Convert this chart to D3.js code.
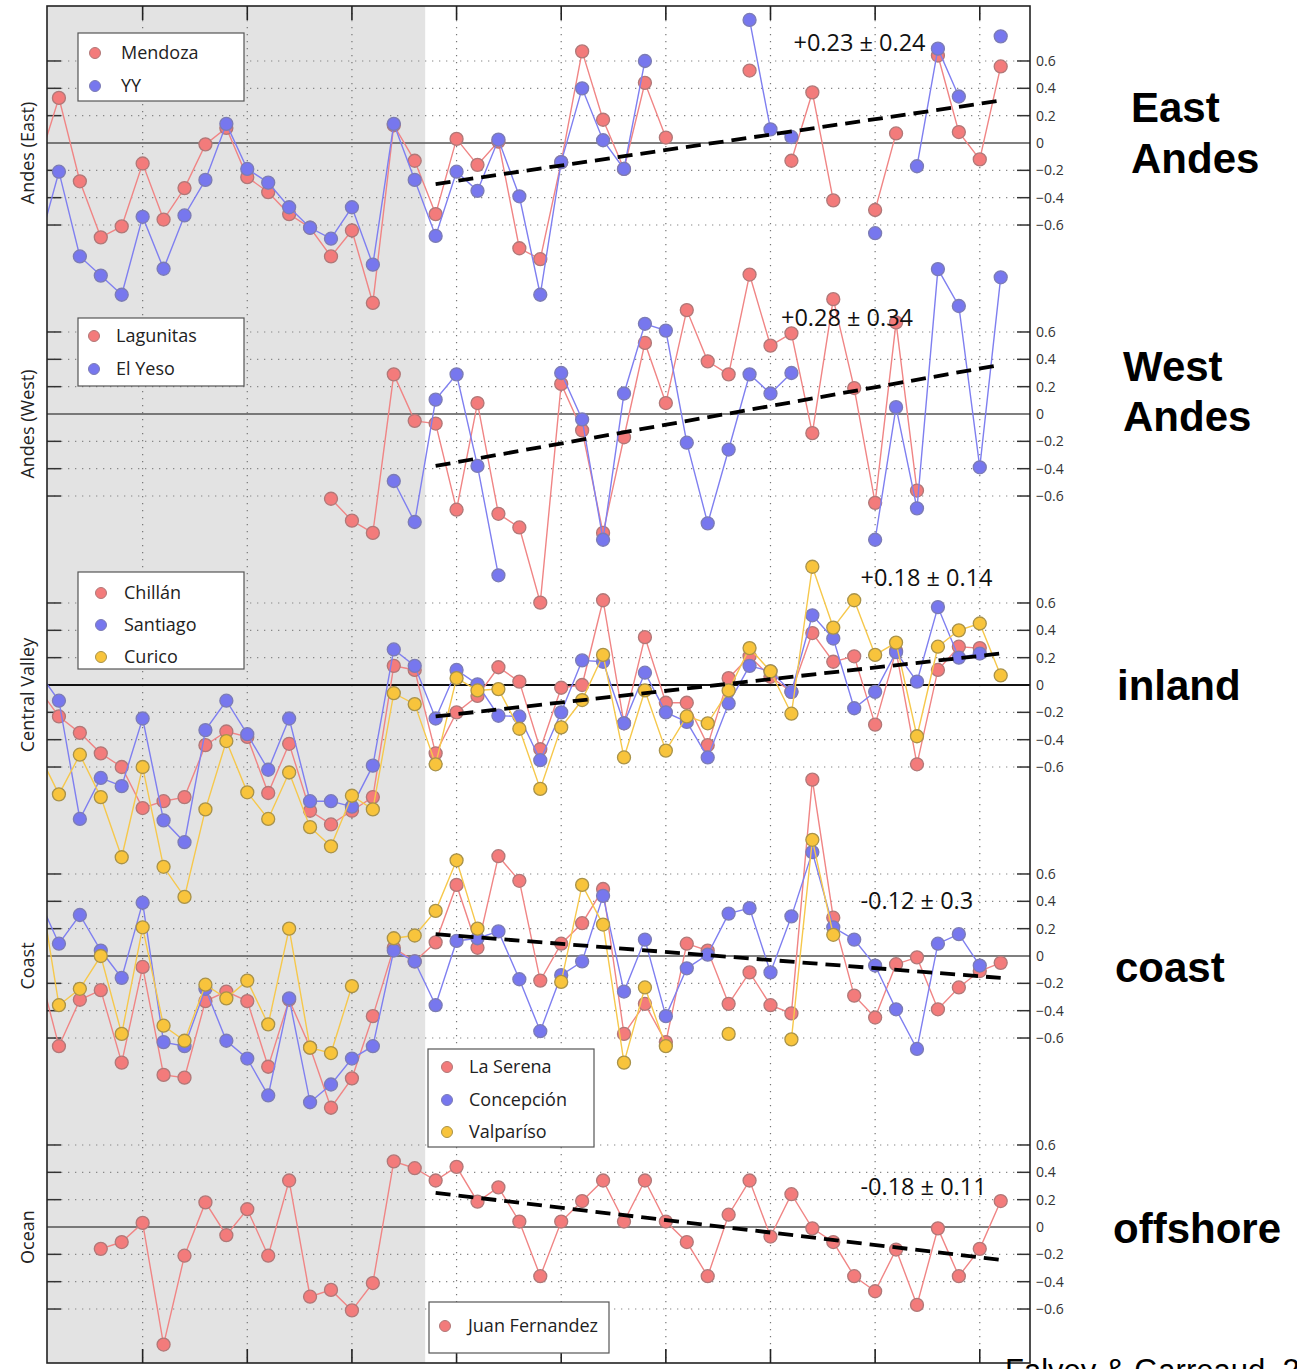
<!DOCTYPE html>
<html>
<head>
<meta charset="utf-8">
<script src="https://cdn.jsdelivr.net/npm/d3@7/dist/d3.min.js"></script>
<style>
html,body{margin:0;padding:0;background:#fff;}
svg{display:block;}
</style>
</head>
<body>
<svg id="chart" width="1297" height="1369"></svg>
<script>
// ---------------- DATA ----------------
const years = d3.range(1960, 2007); // 1960 ... 2006
const N = null;

// East Andes
const mendoza = [-0.16,0.33,-0.28,-0.69,-0.61,-0.15,-0.56,-0.33,-0.01,0.11,-0.25,-0.36,-0.52,-0.62,-0.83,-0.64,-1.17,0.13,-0.13,-0.52,
  0.03,-0.16,0.01,-0.77,-0.85,-0.14,0.67,0.17,-0.19,0.44,0.04,N,N,N,0.53,N,-0.13,0.37,-0.42,N,-0.49,0.07,N,0.64,0.08,-0.12,0.56];
const yy = [-0.77,-0.21,-0.83,-0.97,-1.11,-0.54,-0.92,-0.53,-0.27,0.14,-0.19,-0.29,-0.47,-0.62,-0.70,-0.47,-0.89,0.14,-0.27,-0.68,
  -0.21,-0.35,0.025,-0.39,-1.11,-0.14,0.40,0.02,-0.19,0.60,N,N,N,N,0.90,0.10,0.044,N,N,N,-0.66,N,-0.17,0.69,0.34,N,0.78];

// West Andes
const lagunitas = [N,N,N,N,N,N,N,N,N,N,N,N,N,N,-0.62,-0.78,-0.87,0.29,-0.05,-0.07,
  -0.70,0.08,-0.73,-0.83,-1.38,0.22,-0.12,-0.87,-0.17,0.52,0.08,0.76,0.385,0.29,1.02,0.50,0.59,-0.14,0.84,0.19,-0.65,0.67,-0.56,N,N,N,N];
const elYeso = [N,N,N,N,N,N,N,N,N,N,N,N,N,N,N,N,N,-0.49,-0.79,0.105,
  0.29,-0.38,-1.18,N,N,0.30,-0.04,-0.92,0.15,0.66,0.61,-0.21,-0.80,-0.26,0.29,0.15,0.30,N,N,N,-0.92,0.05,-0.69,1.06,0.79,-0.39,1.00];

// Central Valley
const chillan = [-0.02,-0.23,-0.35,-0.50,-0.60,-0.90,-0.85,-0.82,-0.44,-0.34,-0.38,-0.79,-0.43,-0.92,-1.02,-0.92,-0.82,0.14,0.11,-0.50,
  -0.20,-0.08,0.13,0.025,-0.47,-0.02,0.0,0.62,-0.28,0.35,-0.13,-0.13,-0.44,0.05,0.21,0.06,-0.05,0.38,0.17,0.21,-0.29,0.25,-0.58,0.11,0.28,0.27,N];
const santiago = [0.10,-0.115,-0.98,-0.68,-0.74,-0.245,-0.99,-1.15,-0.33,-0.115,-0.36,-0.62,-0.245,-0.85,-0.85,-0.89,-0.59,0.26,0.14,-0.245,
  0.11,0.005,-0.225,-0.23,-0.55,-0.20,0.18,0.17,-0.28,0.09,-0.20,-0.27,-0.53,-0.135,0.14,0.10,-0.05,0.51,0.34,-0.17,-0.05,0.24,0.025,0.57,0.20,0.23,N];
const curico = [-0.49,-0.80,-0.51,-0.82,-1.26,-0.60,-1.33,-1.55,-0.91,-0.41,-0.785,-0.98,-0.64,-1.04,-1.18,-0.81,-0.91,-0.06,-0.14,-0.58,
  0.05,-0.04,-0.03,-0.32,-0.76,-0.31,-0.11,0.22,-0.53,-0.04,-0.48,-0.23,-0.28,-0.04,0.27,0.10,-0.21,0.865,0.42,0.62,0.22,0.31,-0.375,0.28,0.40,0.45,0.07];

// Coast
const laSerena = [-0.07,-0.66,-0.32,-0.25,-0.78,-0.08,-0.87,-0.89,-0.33,-0.26,-0.33,-0.81,-0.32,-0.67,-1.11,-0.895,-0.44,0.06,-0.04,0.10,
  0.52,0.06,0.73,0.55,-0.18,0.09,0.24,0.49,-0.57,-0.35,-0.63,0.09,0.04,-0.35,-0.12,-0.36,-0.42,1.29,0.28,-0.29,-0.45,-0.06,-0.01,-0.39,-0.23,-0.11,-0.05];
const concepcion = [0.43,0.09,0.30,0.04,-0.16,0.39,-0.63,-0.66,-0.24,-0.62,-0.75,-1.02,-0.31,-1.07,-0.94,-0.75,-0.66,0.04,-0.04,-0.36,
  0.11,0.13,0.18,-0.17,-0.55,-0.14,-0.04,0.44,-0.26,0.12,-0.44,-0.09,0.01,0.31,0.35,-0.12,0.29,0.76,0.21,0.12,-0.07,-0.39,-0.68,0.09,0.16,-0.07,N];
const valparaiso = [0.59,-0.36,-0.24,0.0,-0.57,0.21,-0.51,-0.62,-0.21,-0.31,-0.18,-0.50,0.20,-0.67,-0.71,-0.22,N,0.13,0.15,0.33,
  0.70,0.20,N,N,N,-0.19,0.52,0.23,-0.78,-0.23,-0.66,N,N,-0.57,N,N,-0.61,0.85,0.155,N,N,N,N,N,N,N,N];

// Ocean
const juanFernandez = [N,N,N,-0.16,-0.11,0.03,-0.86,-0.21,0.18,-0.06,0.13,-0.21,0.34,-0.51,-0.46,-0.61,-0.41,0.48,0.43,0.34,
  0.44,0.185,0.29,0.04,-0.36,0.04,0.19,0.34,0.04,0.34,0.04,-0.11,-0.36,0.09,0.34,-0.07,0.24,-0.01,-0.11,-0.36,-0.47,-0.165,-0.57,-0.01,-0.36,-0.16,0.19];

// panels
const panelTitles = ["Andes (East)", "Andes (West)", "Central Valley", "Coast", "Ocean"];
const regionLabels = [["East","Andes"], ["West","Andes"], ["inland"], ["coast"], ["offshore"]];
const trendText = ["+0.23 \u00B1 0.24", "+0.28 \u00B1 0.34", "+0.18 \u00B1 0.14", "-0.12 \u00B1 0.3", "-0.18 \u00B1 0.11"];
const trendStartVal = [-0.30, -0.38, -0.23, 0.16, 0.25];   // value at 1979
const trendEndVal   = [0.31, 0.36, 0.23, -0.16, -0.24];    // value at 2006
const trendYears = [1979, 2006];
const trendLabelPos = [[1996.1, 0.73], [1995.5, 0.70], [1999.3, 0.78], [1999.3, 0.40], [1999.3, 0.29]];
const panelSeries = [
  [{name:"Mendoza", c:"red", v:mendoza}, {name:"YY", c:"blue", v:yy}],
  [{name:"Lagunitas", c:"red", v:lagunitas}, {name:"El Yeso", c:"blue", v:elYeso}],
  [{name:"Chill\u00E1n", c:"red", v:chillan}, {name:"Santiago", c:"blue", v:santiago}, {name:"Curico", c:"yellow", v:curico}],
  [{name:"La Serena", c:"red", v:laSerena}, {name:"Concepci\u00F3n", c:"blue", v:concepcion}, {name:"Valpar\u00EDso", c:"yellow", v:valparaiso}],
  [{name:"Juan Fernandez", c:"red", v:juanFernandez}]
];
const legendNames = [["Mendoza","YY"], ["Lagunitas","El Yeso"], ["Chill\u00E1n","Santiago","Curico"], ["La Serena","Concepci\u00F3n","Valpar\u00EDso"], ["Juan Fernandez"]];
const yTicks = [-0.6,-0.4,-0.2,0,0.2,0.4,0.6];
const xTicks = [1965,1970,1975,1980,1985,1990,1995,2000,2005];
const shadeEnd = 1978.5;

// ---------------- STYLE / LAYOUT ----------------
const L = 47, R = 1030, T = 6, B = 1363;
const zeros = [143, 414, 685, 956, 1227];
const unit = 136.7;
const fills = {red:"#f37b7b", blue:"#7777ee", yellow:"#f8c43c"};
const strokes = {red:"#b07878", blue:"#7c7cb4", yellow:"#a8924a"};
const lines = {red:"#f08585", blue:"#7f7ff0", yellow:"#f6c84c"};
const legendBoxes = [
  {x:78, y:33, w:166, h:68, mx:95, tx:121, ys:[53,86]},
  {x:78, y:318, w:166, h:68, mx:94, tx:116, ys:[336,369]},
  {x:78, y:572, w:166, h:97, mx:101, tx:124, ys:[593,625,657]},
  {x:428, y:1049, w:166, h:98, mx:447, tx:469, ys:[1067,1100,1132]},
  {x:429, y:1302, w:180, h:51, mx:445, tx:468, ys:[1326]}
];
const regionPos = [[1131,[122,173]], [1123,[381,431]], [1117,[700]], [1115,[982]], [1113,[1243]]];

const svg = d3.select("#chart");
const x = d3.scaleLinear().domain([1960.43, 2007.40]).range([L, R]);
const yScales = zeros.map(z => d3.scaleLinear().domain([-1, 1]).range([z + unit, z - unit]));

svg.append("defs").append("clipPath").attr("id","plotclip")
  .append("rect").attr("x",L).attr("y",T).attr("width",R-L).attr("height",B-T);

// gray shading
svg.append("rect").attr("x",L).attr("y",T).attr("width",x(shadeEnd)-L).attr("height",B-T).attr("fill","#e3e3e3");

// vertical dotted grid
svg.append("g").selectAll("line").data(xTicks).join("line")
  .attr("x1",d=>x(d)).attr("x2",d=>x(d)).attr("y1",T).attr("y2",B)
  .attr("stroke","#777").attr("stroke-width",1.2).attr("stroke-dasharray","1.3,5.7");

// x ticks top & bottom
const xt = svg.append("g");
xTicks.forEach(d=>{
  xt.append("line").attr("x1",x(d)).attr("x2",x(d)).attr("y1",T).attr("y2",T+14).attr("stroke","#222").attr("stroke-width",1.6);
  xt.append("line").attr("x1",x(d)).attr("x2",x(d)).attr("y1",B-14).attr("y2",B).attr("stroke","#222").attr("stroke-width",1.6);
});

// panels: grid, zero lines, ticks, labels
yScales.forEach((y,i)=>{
  const g = svg.append("g");
  yTicks.filter(t=>t!==0).forEach(t=>{
    g.append("line").attr("x1",L).attr("x2",R).attr("y1",y(t)).attr("y2",y(t))
      .attr("stroke","#888").attr("stroke-width",1.2).attr("stroke-dasharray","1.3,5.7");
    g.append("line").attr("x1",L).attr("x2",L+14).attr("y1",y(t)).attr("y2",y(t)).attr("stroke","#333").attr("stroke-width",1.5);
    g.append("line").attr("x1",R-13).attr("x2",R).attr("y1",y(t)).attr("y2",y(t)).attr("stroke","#333").attr("stroke-width",1.5);
  });
  g.append("line").attr("x1",L).attr("x2",R).attr("y1",y(0)).attr("y2",y(0))
    .attr("stroke", i===2 ? "#111" : "#555").attr("stroke-width", i===2 ? 2 : 1.3);
  // right tick labels
  yTicks.forEach(t=>{
    g.append("text").attr("x",R+6).attr("y",y(t)+5)
      .attr("font-family","Open Sans, sans-serif").attr("font-size",14).attr("fill","#333")
      .text(t===0 ? "0" : (t<0 ? "\u2212" + Math.abs(t).toFixed(1) : t.toFixed(1)));
  });
  // panel title (rotated)
  g.append("text").attr("transform",`translate(34,${zeros[i]+10}) rotate(-90)`)
    .attr("text-anchor","middle").attr("font-family","Open Sans, sans-serif").attr("font-size",18).attr("fill","#222")
    .text(panelTitles[i]);
  // region labels
  regionLabels[i].forEach((s,k)=>{
    svg.append("text").attr("x",regionPos[i][0]).attr("y",regionPos[i][1][k])
      .attr("font-family","Liberation Sans, Arial, sans-serif").attr("font-weight","bold").attr("font-size",42).attr("fill","#000")
      .text(s);
  });
});

// data
const dataG = svg.append("g").attr("clip-path","url(#plotclip)");
panelSeries.forEach((series,i)=>{
  const y = yScales[i];
  series.forEach(s=>{
    const pts = years.map((yr,k)=>({yr, v:s.v[k]}));
    const line = d3.line().defined(d=>d.v!==null).x(d=>x(d.yr)).y(d=>y(d.v));
    dataG.append("path").datum(pts).attr("d",line).attr("fill","none")
      .attr("stroke",lines[s.c]).attr("stroke-width",1.4);
    dataG.append("g").selectAll("circle").data(pts.filter(d=>d.v!==null)).join("circle")
      .attr("cx",d=>x(d.yr)).attr("cy",d=>y(d.v)).attr("r",6.5)
      .attr("fill",fills[s.c]).attr("stroke",strokes[s.c]).attr("stroke-width",1.3);
  });
  // trend
  dataG.append("line").attr("x1",x(trendYears[0])).attr("x2",x(trendYears[1]))
    .attr("y1",y(trendStartVal[i])).attr("y2",y(trendEndVal[i]))
    .attr("stroke","#000").attr("stroke-width",3.8).attr("stroke-dasharray","15,8");
  svg.append("text").attr("x",x(trendLabelPos[i][0])).attr("y",y(trendLabelPos[i][1])+8)
    .attr("font-family","Open Sans, sans-serif").attr("font-size",23.5).attr("fill","#111")
    .text(trendText[i]);
});

// legends
legendBoxes.forEach((b,i)=>{
  const g = svg.append("g");
  g.append("rect").attr("x",b.x).attr("y",b.y).attr("width",b.w).attr("height",b.h)
    .attr("fill","#fff").attr("stroke","#555").attr("stroke-width",1.2);
  panelSeries[i].forEach((s,k)=>{
    g.append("circle").attr("cx",b.mx).attr("cy",b.ys[k]).attr("r",5.5)
      .attr("fill",fills[s.c]).attr("stroke",strokes[s.c]).attr("stroke-width",1);
    g.append("text").attr("x",b.tx).attr("y",b.ys[k]+6)
      .attr("font-family","Open Sans, sans-serif").attr("font-size",18).attr("fill","#222")
      .text(legendNames[i][k]);
  });
});

// frame
svg.append("rect").attr("x",L).attr("y",T).attr("width",R-L).attr("height",B-T)
  .attr("fill","none").attr("stroke","#222").attr("stroke-width",1.6);

// credit (cut by the page edge, as in the reference)
svg.append("text").attr("x",1005).attr("y",1381)
  .attr("font-family","Liberation Sans, Arial, sans-serif").attr("font-size",31).attr("fill","#000")
  .text("Falvey & Garreaud, 2009");
</script>
</body>
</html>
